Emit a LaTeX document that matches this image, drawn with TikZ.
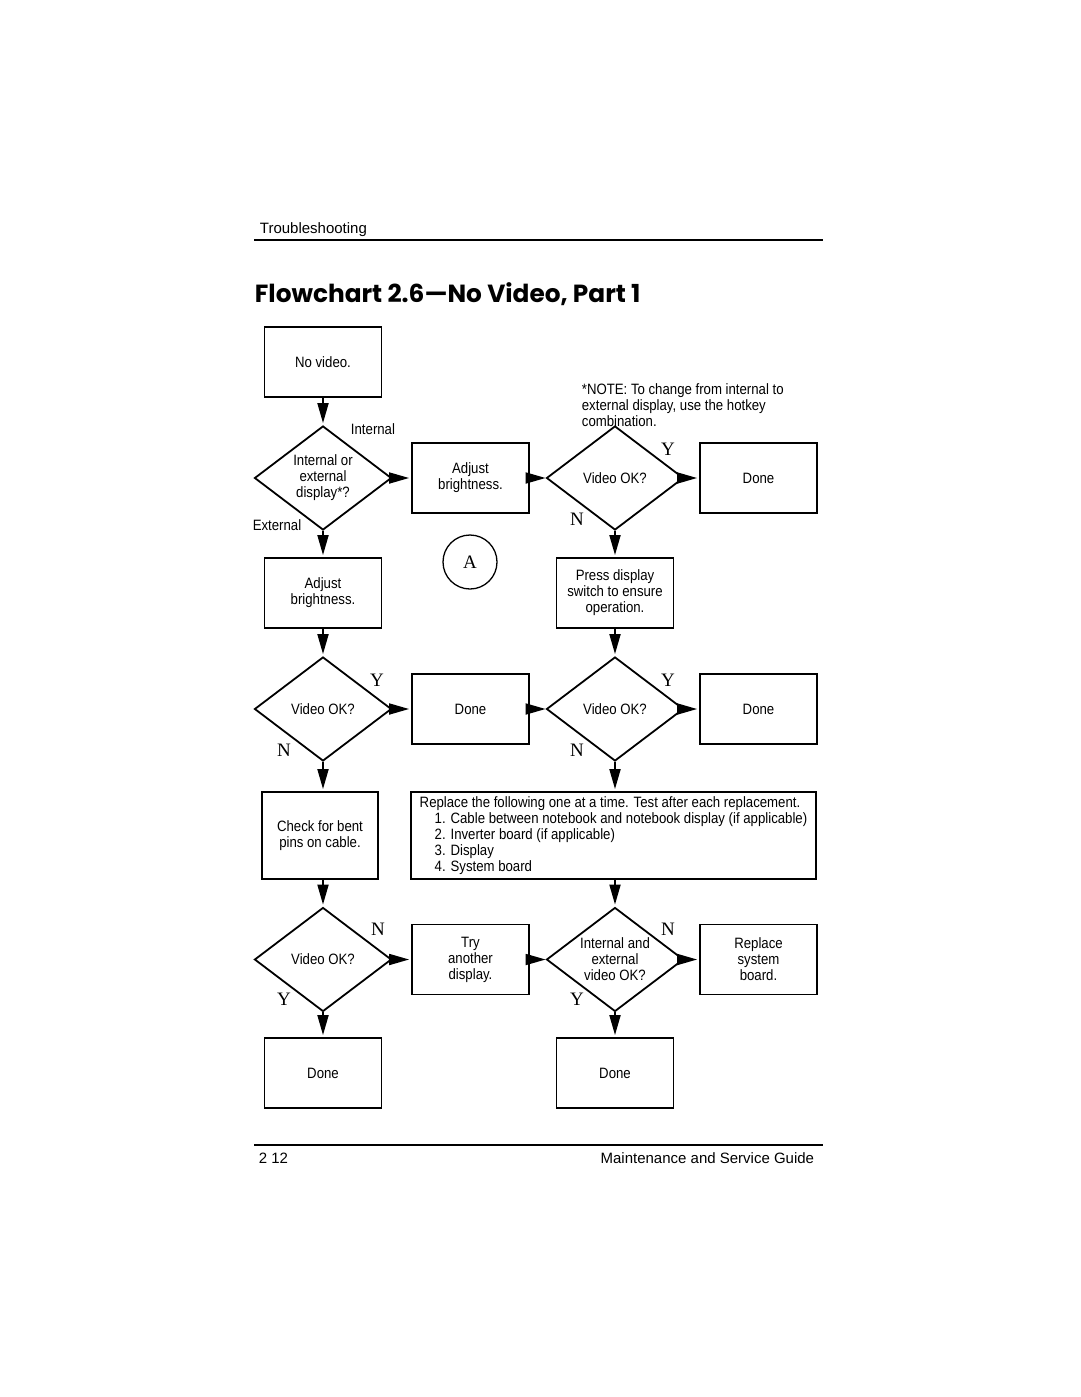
\documentclass[tikz,border=0pt]{standalone}
\usepackage{fontspec}
\setmainfont{Liberation Sans}
\newfontfamily\narrowfont[FakeStretch=0.88]{Liberation Sans}
\newfontfamily\ynfont{Liberation Serif}
\newfontfamily\titlefont{Poppins}
\usetikzlibrary{shapes.geometric,arrows.meta,positioning,calc}

\begin{document}
\begin{tikzpicture}[x=1pt,y=-1pt,shorten >=2pt,line width=1.8pt,
   >={Triangle[length=20pt,width=11pt]},
   box/.style={draw,rectangle,minimum width=117pt,minimum height=70pt,inner sep=2pt,
      align=center,font=\narrowfont\fontsize{15}{16}\selectfont},
   decision/.style={draw,diamond,aspect=1.32,minimum width=137pt,minimum height=104pt,
      inner sep=0pt,align=center,font=\narrowfont\fontsize{15}{16}\selectfont},
   yn/.style={font=\ynfont\fontsize{19}{19}\selectfont},
   tag/.style={font=\narrowfont\fontsize{15}{16}\selectfont,inner sep=0pt}]
   \useasboundingbox (0,0) rectangle (1080,1397);

   \node[anchor=base west,font=\fontsize{15}{18}\selectfont,inner sep=0pt] (head) at (259,233) {Troubleshooting};
   \draw[line width=1.2pt] (254,240) -- (825,240);
   \node[anchor=base west,font=\titlefont\bfseries\fontsize{24.8}{26}\selectfont,inner sep=0pt] (title) at (254,302) {Flowchart 2.6—No Video, Part 1};

   \node[box] (novideo)  at (323,362)   {No video.};
   \node[decision] (intext) at (323,478) {Internal or\\external\\display*?};
   \node[box] (adjust_1) at (470.5,478) {Adjust\\brightness.};
   \node[decision] (vok_1) at (615,478) {Video OK?};
   \node[box] (done_1)   at (758.5,478) {Done};
   \node[tag,anchor=north west,align=left] (note) at (581,383) {*NOTE: To change from internal to\\external display, use the hotkey\\combination.};

   \node[draw,circle,minimum size=54pt,line width=1.3pt,yn] (conn_a) at (470,562) {A};
   \node[box] (adjust_2) at (323,593)   {Adjust\\brightness.};
   \node[box] (press)    at (615,593)   {Press display\\switch to ensure\\operation.};

   \node[decision] (vok_2) at (323,709) {Video OK?};
   \node[box] (done_2)   at (470.5,709) {Done};
   \node[decision] (vok_3) at (615,709) {Video OK?};
   \node[box] (done_3)   at (758.5,709) {Done};

   \node[box,minimum width=116pt,minimum height=87pt] (bent) at (320,835.5) {Check for bent\\pins on cable.};
   \node[box,minimum width=405pt,minimum height=87pt,align=left] (replace) at (613.5,835.5)
      {Replace the following one at a time. Test after each replacement.\\
       \hspace*{15pt}1. Cable between notebook and notebook display (if applicable)\\
       \hspace*{15pt}2. Inverter board (if applicable)\\
       \hspace*{15pt}3. Display\\
       \hspace*{15pt}4. System board};

   \node[decision] (vok_4) at (323,959.5) {Video OK?};
   \node[box] (another)  at (470.5,959.5) {Try\\another\\display.};
   \node[decision] (vok_5) at (615,959.5) {Internal and\\external\\video OK?};
   \node[box] (sysboard) at (758.5,959.5) {Replace\\system\\board.};

   \node[box] (done_4)   at (323,1073)  {Done};
   \node[box] (done_5)   at (615,1073)  {Done};

   \node[tag] at ($(intext)+(50,-49)$) {Internal};
   \node[tag] at ($(intext)+(-46,47)$) {External};
   \node[yn] at ($(vok_1)+(53,-29)$) {Y};
   \node[yn] at ($(vok_1)+(-38,41)$) {N};
   \node[yn] at ($(vok_2)+(54,-29)$) {Y};
   \node[yn] at ($(vok_2)+(-39,41)$) {N};
   \node[yn] at ($(vok_3)+(53,-29)$) {Y};
   \node[yn] at ($(vok_3)+(-38,41)$) {N};
   \node[yn] at ($(vok_4)+(55,-30)$) {N};
   \node[yn] at ($(vok_4)+(-39,40)$) {Y};
   \node[yn] at ($(vok_5)+(53,-30)$) {N};
   \node[yn] at ($(vok_5)+(-38,40)$) {Y};

    \path[->]
    (novideo) edge (intext)
    (intext) edge (adjust_1)
             edge (adjust_2)
    (adjust_1) edge[shorten >=0pt] (vok_1)
    (vok_1) edge (done_1)
            edge (press)
    (adjust_2) edge (vok_2)
    (vok_2) edge (done_2)
            edge (vok_2.south |- bent.north)
    (done_2) edge[shorten >=0pt] (vok_3)
    (press) edge (vok_3)
    (vok_3) edge (done_3)
            edge (vok_3.south |- replace.north)
    (bent.south -| vok_4.north) edge (vok_4)
    (vok_4) edge (another)
            edge (done_4)
    (another) edge[shorten >=0pt] (vok_5)
    (replace.south -| vok_5.north) edge (vok_5)
    (vok_5) edge (sysboard)
            edge (done_5);

   \draw[line width=1.2pt] (254,1145) -- (825,1145);
   \node[anchor=base west,font=\fontsize{15}{18}\selectfont,inner sep=0pt] (page) at (258,1163) {2 12};
   \node[anchor=base east,font=\fontsize{15}{18}\selectfont,inner sep=0pt] (guide) at (815,1163) {Maintenance and Service Guide};
\end{tikzpicture}
\end{document}
